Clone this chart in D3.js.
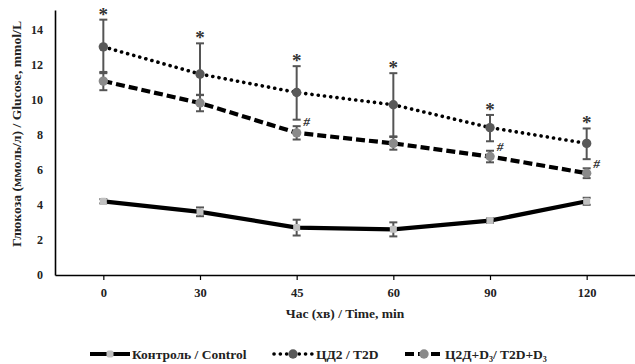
<!DOCTYPE html>
<html><head><meta charset="utf-8">
<script src="https://cdn.jsdelivr.net/npm/d3@7"></script>
<style>
html,body{margin:0;padding:0;background:#fff;}
svg text{font-family:"Liberation Serif","Times New Roman",serif;font-weight:bold;}
</style></head>
<body><svg id="c" width="635" height="364"></svg>
<script>
const times = ["0","30","45","60","90","120"];
const yTicks = [0,2,4,6,8,10,12,14];
const controlVals = [4.2,3.6,2.7,2.6,3.1,4.2];
const controlErr  = [0.12,0.25,0.45,0.4,0.12,0.2];
const t2dVals     = [13.0,11.45,10.4,9.7,8.4,7.5];
const t2dErrUp    = [1.55,1.75,1.5,1.8,0.72,0.85];
const t2dErrDown  = [1.5,1.2,1.55,1.8,0.78,0.9];
const t2dd3Vals   = [11.05,9.8,8.1,7.5,6.75,5.8];
const t2dd3Err    = [0.52,0.47,0.38,0.36,0.33,0.28];
const starFlags   = [1,1,1,1,1,1];
const hashFlags   = [0,0,1,0,1,1];
const legendLabels = ["Контроль / Control","ЦД2 / T2D","Ц2Д+D₃/ T2D+D₃"];
const xTitle = "Час (хв) / Time, min";
const yTitle = "Глюкоза (ммоль/л) / Glucose, mmol/L";

(function(){
const svg = d3.select("#c");
const mLeft=55,mRight=635,mTop=10,mBottom=275;
const x = d3.scalePoint().domain(times).range([mLeft,mRight]).padding(0.5);
const y = d3.scaleLinear().domain([0,15.1]).range([mBottom,mTop]);

const yAxis = svg.append("g").attr("transform",`translate(${mLeft},0)`)
  .call(d3.axisLeft(y).tickValues(yTicks).tickSize(0).tickPadding(12).tickSizeOuter(0));
yAxis.select(".domain").attr("stroke","#000").attr("stroke-width",1.6);
yAxis.selectAll("text").attr("font-size",12).attr("fill","#222");

const xAxis = svg.append("g").attr("transform",`translate(0,${mBottom})`)
  .call(d3.axisBottom(x).tickSize(5).tickPadding(8).tickSizeOuter(0));
xAxis.select(".domain").attr("stroke","#000").attr("stroke-width",1.6);
xAxis.selectAll(".tick line").attr("stroke","#000").attr("stroke-width",1.2);
xAxis.selectAll("text").attr("font-size",12.5).attr("fill","#222");

svg.append("text").attr("x",(mLeft+mRight)/2).attr("y",318).attr("text-anchor","middle")
  .attr("font-size",13.5).attr("fill","#222").text(xTitle);
svg.append("text").attr("transform","translate(21,134) rotate(-90)").attr("text-anchor","middle")
  .attr("font-size",13.5).attr("fill","#222").attr("textLength",226).attr("lengthAdjust","spacingAndGlyphs").text(yTitle);

const line = d3.line().x((d,i)=>x(times[i])).y(d=>y(d));

svg.append("path").datum(controlVals).attr("d",line).attr("fill","none")
  .attr("stroke","#000").attr("stroke-width",4.2);
svg.append("path").datum(t2dVals).attr("d",line).attr("fill","none")
  .attr("stroke","#000").attr("stroke-width",3.6).attr("stroke-linecap","round").attr("stroke-dasharray","0.1,6.2");
svg.append("path").datum(t2dd3Vals).attr("d",line).attr("fill","none")
  .attr("stroke","#000").attr("stroke-width",4.2).attr("stroke-dasharray","9,4");

function errBars(vals, up, down){
  const g = svg.append("g").attr("stroke","#555").attr("stroke-width",2);
  vals.forEach((v,i)=>{
    const cx=x(times[i]), y1=y(v+up[i]), y2=y(v-down[i]);
    g.append("line").attr("x1",cx).attr("x2",cx).attr("y1",y1).attr("y2",y2);
    g.append("line").attr("x1",cx-4).attr("x2",cx+4).attr("y1",y1).attr("y2",y1);
    g.append("line").attr("x1",cx-4).attr("x2",cx+4).attr("y1",y2).attr("y2",y2);
  });
}
errBars(controlVals,controlErr,controlErr);
errBars(t2dVals,t2dErrUp,t2dErrDown);
errBars(t2dd3Vals,t2dd3Err,t2dd3Err);

svg.append("g").selectAll("rect").data(controlVals).join("rect")
  .attr("x",(d,i)=>x(times[i])-3.5).attr("y",d=>y(d)-3.5).attr("width",7).attr("height",7).attr("rx",1.5).attr("fill","#c0c0c0");
svg.append("g").selectAll("circle").data(t2dVals).join("circle")
  .attr("cx",(d,i)=>x(times[i])).attr("cy",d=>y(d)).attr("r",4.7).attr("fill","#595959");
svg.append("g").selectAll("circle").data(t2dd3Vals).join("circle")
  .attr("cx",(d,i)=>x(times[i])).attr("cy",d=>y(d)).attr("r",4.7).attr("fill","#8a8a8a");

svg.append("g").selectAll("text").data(t2dVals.map((v,i)=>({v,i})).filter(d=>starFlags[d.i])).join("text")
  .attr("x",d=>x(times[d.i])).attr("y",d=>y(d.v+t2dErrUp[d.i])+1).attr("text-anchor","middle")
  .attr("font-size",19).attr("fill","#333").text("*");
svg.append("g").selectAll("text").data(t2dd3Vals.map((v,i)=>({v,i})).filter(d=>hashFlags[d.i])).join("text")
  .attr("x",d=>x(times[d.i])+10).attr("y",d=>y(d.v+t2dd3Err[d.i])).attr("text-anchor","middle")
  .attr("font-size",13.5).attr("font-style","italic").attr("fill","#333").text("#");

const ly=354;
const leg = svg.append("g");
leg.append("line").attr("x1",90).attr("x2",130).attr("y1",ly).attr("y2",ly).attr("stroke","#000").attr("stroke-width",4.2);
leg.append("rect").attr("x",106.5).attr("y",ly-3.5).attr("width",7).attr("height",7).attr("rx",2).attr("fill","#c0c0c0");
leg.append("text").attr("x",132).attr("y",ly+4.5).attr("font-size",13.5).attr("fill","#222").text(legendLabels[0]);
leg.append("line").attr("x1",274).attr("x2",313).attr("y1",ly).attr("y2",ly).attr("stroke","#000").attr("stroke-width",3.6)
  .attr("stroke-linecap","round").attr("stroke-dasharray","0.1,6.2");
leg.append("circle").attr("cx",293).attr("cy",ly).attr("r",4.7).attr("fill","#595959");
leg.append("text").attr("x",316).attr("y",ly+4.5).attr("font-size",13.5).attr("fill","#222").text(legendLabels[1]);
leg.append("line").attr("x1",405).attr("x2",442).attr("y1",ly).attr("y2",ly).attr("stroke","#000").attr("stroke-width",4.2).attr("stroke-dasharray","9,4");
leg.append("circle").attr("cx",424).attr("cy",ly).attr("r",4.7).attr("fill","#8a8a8a");
leg.append("text").attr("x",445).attr("y",ly+4.5).attr("font-size",13.5).attr("fill","#222").text(legendLabels[2]);
})();
</script></body></html>
